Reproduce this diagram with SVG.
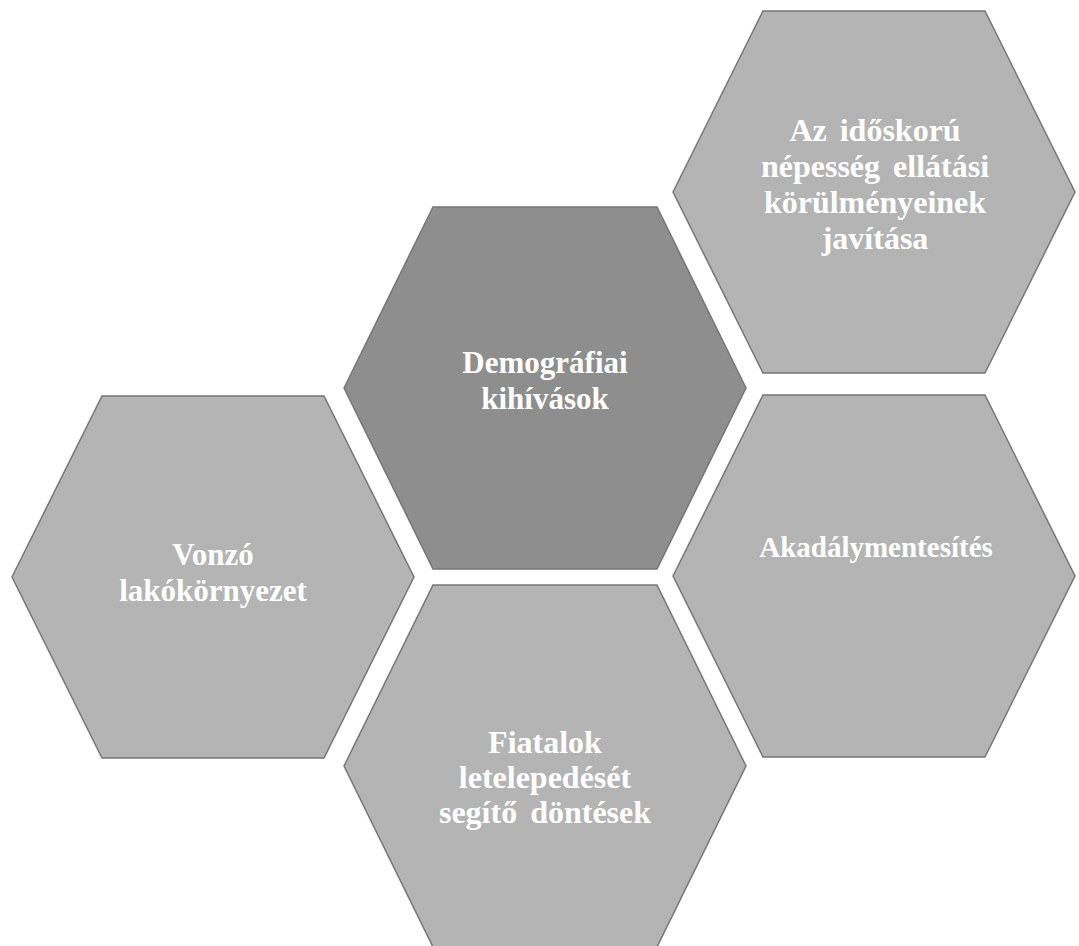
<svg xmlns="http://www.w3.org/2000/svg" width="1079" height="946" viewBox="0 0 1079 946">
<style>
.hex{fill:#b4b4b4;stroke:#767676;stroke-width:1.5}
.dark{fill:#8e8e8e}
.t{font-family:"Liberation Serif","Times New Roman",serif;font-weight:bold;font-size:31px;fill:#ffffff;text-anchor:middle}
.big{font-size:32px;word-spacing:5px}
</style>
<rect width="1079" height="946" fill="#ffffff"/>
<g id="connectors"></g>
<g id="node-idoskoru">
<polygon class="hex" points="673,192 763,11 985,11 1075,192 985,373 763,373"/>
<text class="t big" x="875" y="141">Az időskorú</text>
<text class="t big" x="875" y="177">népesség ellátási</text>
<text class="t big" x="875" y="213">körülményeinek</text>
<text class="t big" x="875" y="249">javítása</text>
</g>
<g id="node-demografiai">
<polygon class="hex dark" points="344,388 433,207 657,207 746,388 657,569 433,569"/>
<text class="t" x="545" y="373">Demográfiai</text>
<text class="t" x="545" y="409">kihívások</text>
</g>
<g id="node-vonzo">
<polygon class="hex" points="12,577 102,396 324,396 414,577 324,758 102,758"/>
<text class="t" x="213" y="565">Vonzó</text>
<text class="t" x="213" y="601">lakókörnyezet</text>
</g>
<g id="node-akadaly">
<polygon class="hex" points="673,576 763,395 985,395 1075,576 985,757 763,757"/>
<text class="t" x="876" y="557" style="font-size:29px">Akadálymentesítés</text>
</g>
<g id="node-fiatalok">
<polygon class="hex" points="344,766 433,585 657,585 746,766 657,947 433,947"/>
<text class="t big" x="545" y="753">Fiatalok</text>
<text class="t big" x="545" y="788">letelepedését</text>
<text class="t big" x="545" y="823">segítő döntések</text>
</g>
</svg>
